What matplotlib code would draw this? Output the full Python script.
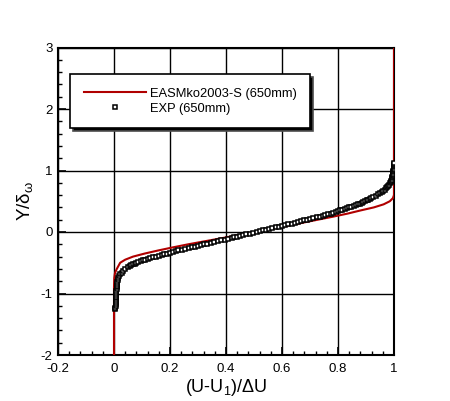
import matplotlib
matplotlib.use("Agg")
import matplotlib.pyplot as plt
from matplotlib.ticker import MultipleLocator

plt.rcParams['font.family'] = ['Liberation Sans', 'DejaVu Sans']
plt.rcParams['mathtext.fontset'] = 'custom'
plt.rcParams['mathtext.rm'] = 'Liberation Sans'
plt.rcParams['mathtext.it'] = 'Liberation Sans'

# EASMko2003-S (650mm) profile
sim_y = [-2.0, -0.9, -0.75, -0.68, -0.64, -0.60, -0.55, -0.50, -0.45, -0.40, -0.35,
         -0.30, -0.25, -0.20, -0.15, -0.10, -0.05, 0.0, 0.05, 0.10, 0.15, 0.20,
         0.25, 0.30, 0.35, 0.40, 0.45, 0.50, 0.55, 0.60, 0.70, 3.0]
sim_x = [0.0, 0.0, 0.001, 0.003, 0.006, 0.010, 0.016, 0.022, 0.040, 0.068, 0.110,
         0.158, 0.210, 0.265, 0.325, 0.385, 0.445, 0.505, 0.562, 0.618, 0.673, 0.728,
         0.783, 0.835, 0.880, 0.928, 0.963, 0.985, 0.996, 1.0, 1.0, 1.0]

# EXP (650mm)
exp_y = [-1.26, -1.23, -1.20, -1.17, -1.14, -1.11, -1.08, -1.05, -1.02, -0.99,
         -0.96, -0.93, -0.90, -0.87, -0.84, -0.81, -0.78, -0.75, -0.72, -0.69,
         -0.66, -0.63, -0.60, -0.57,
         -0.5500, -0.5375, -0.5250, -0.5125, -0.5000, -0.4875, -0.4750, -0.4625,
         -0.4500, -0.4375, -0.4250, -0.4125, -0.4000, -0.3875, -0.3750, -0.3625,
         -0.3500, -0.3375, -0.3250, -0.3125, -0.3000, -0.2875, -0.2750, -0.2625,
         -0.2500, -0.2375, -0.2250, -0.2125, -0.2000, -0.1875, -0.1750, -0.1625,
         -0.1500, -0.1375, -0.1250, -0.1125, -0.1000, -0.0875, -0.0750, -0.0625,
         -0.0500, -0.0375, -0.0250, -0.0125, 0.0000, 0.0125, 0.0250, 0.0375,
         0.0500, 0.0625, 0.0750, 0.0875, 0.1000, 0.1125, 0.1250, 0.1375,
         0.1500, 0.1625, 0.1750, 0.1875, 0.2000, 0.2125, 0.2250, 0.2375,
         0.2500, 0.2625, 0.2750, 0.2875, 0.3000, 0.3125, 0.3250, 0.3375,
         0.3500, 0.3625, 0.3750, 0.3875, 0.4000, 0.4125, 0.4250, 0.4375,
         0.4500, 0.4625, 0.4750, 0.4875, 0.5000, 0.5125, 0.5250, 0.5375, 0.5500,
         0.57, 0.59, 0.61, 0.63, 0.65, 0.67, 0.69, 0.71, 0.73, 0.75, 0.77, 0.79,
         0.81, 0.83, 0.85, 0.87, 0.89, 0.91, 0.93, 0.95, 0.97, 0.99, 1.01, 1.03,
         1.05, 1.07, 1.09, 1.11, 1.12]
exp_x = [0.005, 0.005, 0.006, 0.006, 0.006, 0.006, 0.007, 0.007, 0.007, 0.008,
         0.008, 0.009, 0.009, 0.010, 0.011, 0.012, 0.013, 0.015, 0.018, 0.022,
         0.027, 0.033, 0.040, 0.050,
         0.057, 0.062, 0.068, 0.074, 0.080, 0.087, 0.095, 0.102,
         0.110, 0.120, 0.130, 0.140, 0.150, 0.160, 0.170, 0.180,
         0.190, 0.200, 0.210, 0.220, 0.230, 0.243, 0.255, 0.268,
         0.280, 0.290, 0.300, 0.310, 0.320, 0.333, 0.345, 0.358,
         0.370, 0.383, 0.395, 0.408, 0.420, 0.430, 0.440, 0.450,
         0.460, 0.473, 0.485, 0.498, 0.510, 0.521, 0.532, 0.544,
         0.555, 0.566, 0.578, 0.589, 0.600, 0.611, 0.622, 0.634,
         0.645, 0.656, 0.668, 0.679, 0.690, 0.701, 0.712, 0.724,
         0.735, 0.745, 0.755, 0.765, 0.775, 0.783, 0.792, 0.800,
         0.808, 0.816, 0.824, 0.832, 0.840, 0.848, 0.856, 0.863,
         0.870, 0.877, 0.884, 0.890, 0.896, 0.902, 0.907, 0.913, 0.918,
         0.925, 0.935, 0.943, 0.950, 0.956, 0.962, 0.967, 0.972, 0.976, 0.980,
         0.983, 0.986, 0.988, 0.990, 0.992, 0.993, 0.994, 0.995, 0.996, 0.997,
         0.998, 0.998, 0.999, 0.999, 0.999, 1.0, 1.0, 1.0, 1.0]

xticks = [-0.2, 0, 0.2, 0.4, 0.6, 0.8, 1]
xticklabels = ['-0.2', '0', '0.2', '0.4', '0.6', '0.8', '1']
yticks = [-2, -1, 0, 1, 2, 3]
yticklabels = ['-2', '-1', '0', '1', '2', '3']

fig = plt.figure(figsize=(4.5, 4.01), dpi=100)
ax = fig.add_axes([58/450, 1-355/401, (394-58)/450, (355-47.5)/401])

ax.plot(sim_x, sim_y, color='#b00000', lw=1.5, label='EASMko2003-S (650mm)', zorder=3)
ax.plot(exp_x, exp_y, ls='none', marker='s', ms=3.5, mfc='white', mec='black',
        mew=1.1, label='EXP (650mm)', zorder=4)

ax.set_xlim(-0.2, 1)
ax.set_ylim(-2, 3)
ax.set_xticks(xticks)
ax.set_xticklabels(xticklabels)
ax.set_yticks(yticks)
ax.set_yticklabels(yticklabels)
ax.xaxis.set_minor_locator(MultipleLocator(0.04))
ax.yaxis.set_minor_locator(MultipleLocator(0.2))
ax.tick_params(which='both', direction='in', top=False, right=False,
               labelsize=9.5, width=1.2, color='black')
ax.tick_params(which='major', length=6)
ax.tick_params(which='minor', length=3, width=1)
ax.tick_params(axis='x', pad=6)
ax.tick_params(axis='y', pad=4)
ax.grid(True, which='major', color='black', lw=1)
for s in ax.spines.values():
    s.set_linewidth(1.5)
    s.set_color('black')

ax.set_xlabel(r'(U-U$_1$)/$\Delta$U', fontsize=13, labelpad=1)
ax.set_ylabel(r'Y/$\delta_\omega$', fontsize=13.5, labelpad=4)

leg = ax.legend(loc='upper left', bbox_to_anchor=(0.036, 0.914), fontsize=9.3,
                frameon=True, fancybox=False, edgecolor='black', framealpha=1,
                shadow={'facecolor': 'black', 'alpha': 1.0},
                handlelength=4.8, handletextpad=0.3, borderpad=1.05,
                labelspacing=0.25, borderaxespad=0, markerscale=1.0)
leg.get_frame().set_linewidth(1.2)

fig.savefig('out.png', dpi=100)
